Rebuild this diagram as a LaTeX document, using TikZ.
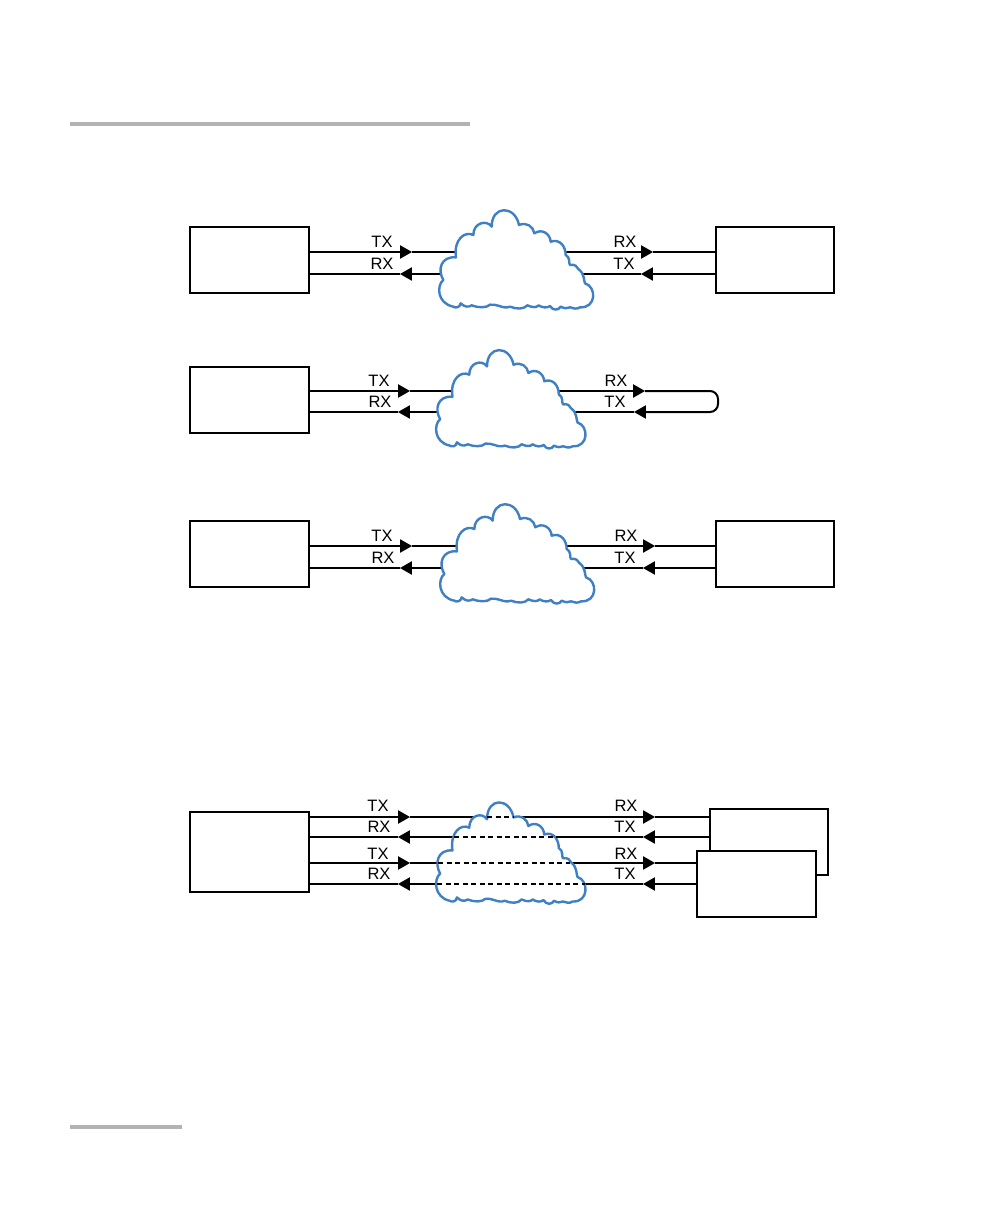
\documentclass[tikz,border=0pt]{standalone}
\usepackage{fontspec}
\setmainfont{Liberation Sans}
\usetikzlibrary{arrows.meta}
\definecolor{cloudblue}{HTML}{3F7FC3}
\definecolor{rulegray}{HTML}{B3B3B3}
\tikzset{
  hostbox/.style={draw=black,fill=white,line width=2pt,inner sep=0pt,minimum width=119pt,minimum height=66pt},
  rightbox/.style={hostbox,minimum width=118pt},
  wire/.style={draw=black,line width=2pt},
  headed/.style={wire,-{Triangle[length=12pt,width=13pt]},shorten >=-0.1pt},
  portlabel/.style={inner sep=0pt,text=black,font=\fontsize{16.5}{18}\selectfont},
  cloudline/.style={draw=cloudblue,fill=white,line width=2.4pt,line join=round},
  tunnel/.style={draw=black,line width=1.6pt,dash pattern=on 5pt off 3.5pt},
  pagerule/.style={draw=rulegray,line width=3.5pt}
}
% one connector: from A through two arrow tips to B, at height y
\newcommand{\linkrow}[5]{%
  \draw[headed] (#1 |- 0,#5) -- (#2,#5);
  \draw[headed] (#2,#5) -- (#3,#5);
  \draw[wire] (#3,#5) -- (#4 |- 0,#5);}
\newcommand{\cloudshape}[4]{%
  \begin{scope}[shift={(#1,#2)},xscale=#3/3,yscale=#4/3]
  \draw[cloudline] (70,240)
    .. controls (52,210) and (62,168) .. (108,172)
    .. controls (100,118) and (135,92) .. (160,105)
    .. controls (160,68) and (200,58) .. (215,80)
    .. controls (215,15) and (285,15) .. (297,75)
    .. controls (320,65) and (340,80) .. (343,100)
    .. controls (365,85) and (390,100) .. (392,125)
    .. controls (420,115) and (437,140) .. (437,165)
    .. controls (452,172) and (445,190) .. (450,195)
    .. controls (465,192) and (472,200) .. (475,207)
    .. controls (495,222) and (490,240) .. (495,250)
    .. controls (530,260) and (530,325) .. (480,322)
    .. controls (470,328) and (460,326) .. (450,322)
    .. controls (442,327) and (432,325) .. (422,320)
    .. controls (416,332) and (398,332) .. (390,318)
    .. controls (382,324) and (368,324) .. (356,316)
    .. controls (350,322) and (340,324) .. (322,316)
    .. controls (312,328) and (290,328) .. (270,320)
    .. controls (258,324) and (250,322) .. (238,318)
    .. controls (228,314) and (220,314) .. (210,314)
    .. controls (200,324) and (175,324) .. (155,316)
    .. controls (145,322) and (135,322) .. (122,310)
    .. controls (120,324) and (105,324) .. (100,320)
    .. controls (50,310) and (50,255) .. (70,240) -- cycle;
  \end{scope}}
\begin{document}
\begin{tikzpicture}[x=1pt,y=-1pt]
\useasboundingbox (0,0) rectangle (1008,1224);
% page rules
\coordinate (ruleTopA) at (70,124); \coordinate (ruleTopB) at (470,124);
\coordinate (ruleBotA) at (70,1127); \coordinate (ruleBotB) at (182,1127);
\draw[pagerule] (ruleTopA) -- (ruleTopB);
\draw[pagerule] (ruleBotA) -- (ruleBotB);

% boxes
\node[hostbox] (L1) at (249.5,260) {};
\node[rightbox] (R1) at (775,260) {};
\node[hostbox] (L2) at (249.5,400) {};
\node[hostbox] (L3) at (249.5,554) {};
\node[rightbox] (R3) at (775,554) {};
\node[hostbox,minimum height=80pt] (L4) at (249.5,852) {};
\node[rightbox] (R4a) at (769,842) {};
\node[hostbox] (R4b) at (756.5,884) {};

% connectors
\linkrow{L1.east}{412}{653}{R1.west}{252}
\linkrow{R1.west}{641}{400}{L1.east}{274}

\coordinate (loopTop) at (645,391);
\coordinate (loopBot) at (634,412);
\draw[headed] (L2.east |- 0,391) -- (410,391);
\draw[headed] (410,391) -- (loopTop);
\draw[headed,rounded corners=8pt] (loopTop) -- (718,391) -- (718,412) -- (loopBot);
\draw[headed] (loopBot) -- (398,412);
\draw[wire] (398,412) -- (L2.east |- 0,412);

\linkrow{L3.east}{412}{655}{R3.west}{546}
\linkrow{R3.west}{643}{400}{L3.east}{568}

\linkrow{L4.east}{410}{655}{R4a.west}{817}
\linkrow{R4a.west}{643}{398}{L4.east}{837}
\linkrow{L4.east}{410}{655}{R4b.west}{863}
\linkrow{R4b.west}{643}{398}{L4.east}{884}

% clouds
\cloudshape{420}{200}{1}{1}
\cloudshape{417.5}{340}{0.97}{0.99}
\cloudshape{421}{494}{1}{1}
\cloudshape{417.5}{792}{0.97}{1.02}

% tunnels through the last cloud
\coordinate (d1a) at (487,817); \coordinate (d1b) at (513,817);
\coordinate (d2a) at (454,837); \coordinate (d2b) at (557,837);
\coordinate (d3a) at (438,863); \coordinate (d3b) at (570,863);
\coordinate (d4a) at (437,884); \coordinate (d4b) at (585,884);
\draw[tunnel] (d1a) -- (d1b);
\draw[tunnel] (d2a) -- (d2b);
\draw[tunnel] (d3a) -- (d3b);
\draw[tunnel] (d4a) -- (d4b);

% labels
\node[portlabel] (t1a) at (382,242) {TX};
\node[portlabel] (t1b) at (382,264) {RX};
\node[portlabel] (t1c) at (625,242) {RX};
\node[portlabel] (t1d) at (624,264) {TX};
\node[portlabel] (t2a) at (379,381) {TX};
\node[portlabel] (t2b) at (380,402) {RX};
\node[portlabel] (t2c) at (616,381) {RX};
\node[portlabel] (t2d) at (615,402) {TX};
\node[portlabel] (t3a) at (382,536) {TX};
\node[portlabel] (t3b) at (383,558) {RX};
\node[portlabel] (t3c) at (626,536) {RX};
\node[portlabel] (t3d) at (625,558) {TX};
\node[portlabel] (t4a) at (378,806) {TX};
\node[portlabel] (t4b) at (379,827) {RX};
\node[portlabel] (t4c) at (378,854) {TX};
\node[portlabel] (t4d) at (379,874) {RX};
\node[portlabel] (t4e) at (626,806) {RX};
\node[portlabel] (t4f) at (625,827) {TX};
\node[portlabel] (t4g) at (626,854) {RX};
\node[portlabel] (t4h) at (625,874) {TX};
\end{tikzpicture}
\end{document}
